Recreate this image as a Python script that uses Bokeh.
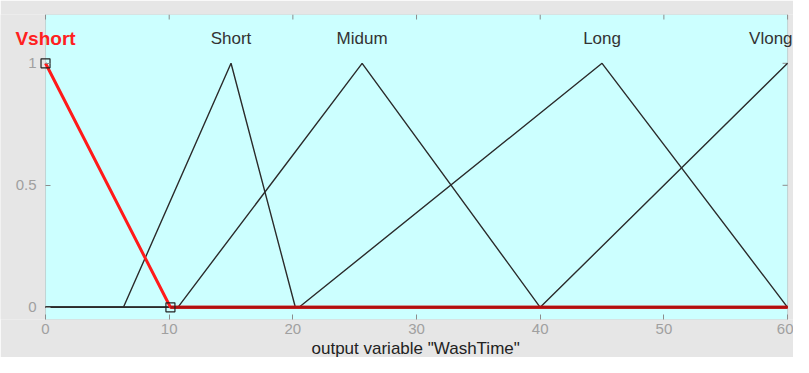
import math
from bokeh.plotting import figure
from bokeh.models import Range1d, FixedTicker, Label, BoxAnnotation, Title
from bokeh.embed import file_html
from bokeh.resources import INLINE

# membership function vertices (output variable "WashTime")
vshort_x = [0, 10.1, 60]
vshort_y = [1, 0, 0]
short_x = [0, 6.3, 15, 20.2, 60]
short_y = [0, 0, 1, 0, 0]
midum_x = [0, 10.7, 25.6, 40, 60]
midum_y = [0, 0, 1, 0, 0]
long_x = [0, 20.5, 45, 60]
long_y = [0, 0, 1, 0]
vlong_x = [0, 40, 60]
vlong_y = [0, 0, 1]

mf_names = ["Vshort", "Short", "Midum", "Long", "Vlong"]
mf_peaks = [0, 15, 25.6, 45, 60]
x_ticks = [0, 10, 20, 30, 40, 50, 60]
y_ticks = [0, 0.5, 1]
x_lo, x_hi = 0, 60
y_lo, y_hi = -0.05, 1.2
x_title = 'output variable "WashTime"'

BG = "#e6e6e6"
EDGE = "#8c8c8c"
FONT = "Liberation Sans"

p = figure(width=793, height=357, output_backend="svg", toolbar_location=None,
           x_range=Range1d(-3.64, 60.48), y_range=Range1d(y_lo, y_hi),
           min_border_left=0, min_border_right=0, min_border_top=14,
           min_border_bottom=30)
p.background_fill_color = BG
p.border_fill_color = BG
p.outline_line_color = None
p.grid.visible = False

# the axes box
p.add_layout(BoxAnnotation(left=x_lo, right=x_hi, bottom=y_lo, top=y_hi,
                           fill_color="#ccffff", fill_alpha=1,
                           line_color=EDGE, line_width=1, level="underlay"))

xa = p.xaxis[0]
xa.ticker = FixedTicker(ticks=x_ticks)
xa.major_tick_in = 5
xa.major_tick_out = 0
xa.minor_tick_line_color = None
xa.axis_line_color = None
xa.major_tick_line_color = EDGE
xa.major_label_text_color = "#a0a0a0"
xa.major_label_text_font = FONT
xa.major_label_text_font_size = "15px"
xa.major_label_standoff = 4

p.add_layout(Title(text=x_title, align="left", offset=311, standoff=0,
                   text_font=FONT, text_font_size="17px", text_font_style="normal",
                   text_color="#222222"), "below")

ya = p.yaxis[0]
ya.fixed_location = 0
ya.ticker = FixedTicker(ticks=y_ticks)
ya.major_tick_in = 5
ya.major_tick_out = 0
ya.minor_tick_line_color = None
ya.axis_line_color = None
ya.major_tick_line_color = EDGE
ya.major_label_text_color = "#a0a0a0"
ya.major_label_text_font = FONT
ya.major_label_text_font_size = "15px"
ya.major_label_standoff = 9

# inward tick marks on the top and right edges of the box
p.ray(x=x_ticks, y=[y_hi] * len(x_ticks), length=5, length_units="screen",
      angle=-math.pi / 2, line_color=EDGE, line_width=1)
p.ray(x=[x_hi] * len(y_ticks), y=y_ticks, length=5, length_units="screen",
      angle=math.pi, line_color=EDGE, line_width=1)

LC = "#2b2b2b"
for xs, ys in [(short_x, short_y), (midum_x, midum_y), (long_x, long_y), (vlong_x, vlong_y)]:
    p.line(xs, ys, line_color=LC, line_width=1.4)

p.line(vshort_x, vshort_y, line_color="#ff1a1a", line_width=3)
p.line(vshort_x[1:], vshort_y[1:], line_color="#b01010", line_width=3)
p.scatter([vshort_x[0], vshort_x[1]], [vshort_y[0], vshort_y[1]], marker="square",
          size=9, fill_color=None, line_color="#222222", line_width=1.2)

for name, px in zip(mf_names, mf_peaks):
    if name == "Vshort":
        lab = Label(x=px, y=1.1, text=name, text_align="center", text_baseline="middle",
                    text_font=FONT, text_font_size="19px", text_font_style="bold",
                    text_color="#ff2020")
    elif name == "Vlong":
        lab = Label(x=px, y=1.1, text=name, text_align="right", text_baseline="middle",
                    x_offset=5, text_font=FONT, text_font_size="17px",
                    text_color="#333333")
    else:
        lab = Label(x=px, y=1.1, text=name, text_align="center", text_baseline="middle",
                    text_font=FONT, text_font_size="17px", text_color="#333333")
    p.add_layout(lab)

open("out.html", "w").write(file_html(p, INLINE))
